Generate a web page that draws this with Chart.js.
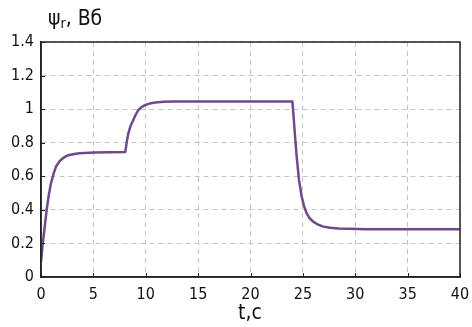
<!DOCTYPE html>
<html>
<head>
<meta charset="utf-8">
<script src="https://cdn.jsdelivr.net/npm/chart.js@4/dist/chart.umd.min.js"></script>
<style>
  html, body { margin: 0; padding: 0; background: #fff; }
  #wrap { position: relative; width: 472px; height: 327px; }
  .lbl { position: absolute; font-family: 'Liberation Sans Narrow', 'DejaVu Sans Condensed', sans-serif; color: #111; }
  #ylab { left: 48px; top: 6px; font-size: 21px; }
  #ylab sub { font-size: 14px; vertical-align: -3px; }
  #xlab { left: 238px; top: 300px; font-size: 21px; }
</style>
</head>
<body>
<div id="wrap">
  <canvas id="c" width="472" height="327"></canvas>
  <div class="lbl" id="ylab">ψ<sub>r</sub>, Вб</div>
  <div class="lbl" id="xlab">t,c</div>
</div>
<script>
// flux linkage vs time
const times = [0, 0.15, 0.32, 0.54, 0.75, 0.95, 1.2, 1.43, 1.75, 2.07, 2.4, 2.7, 3.2, 3.66, 5.1, 8.05,
    8.2, 8.34, 8.55, 8.81, 9.05, 9.29, 9.6, 9.93, 10.4, 10.9, 11.7, 12.6, 24.0,
    24.12, 24.25, 24.41, 24.63, 24.89, 25.1, 25.36, 25.65, 26.0, 26.45, 26.95, 27.6, 28.4, 31, 40];
const psi = [0.09, 0.19, 0.28, 0.40, 0.49, 0.558, 0.615, 0.657, 0.688, 0.707, 0.72, 0.727, 0.733, 0.737, 0.741, 0.745,
    0.81, 0.856, 0.90, 0.935, 0.968, 0.995, 1.012, 1.024, 1.034, 1.04, 1.044, 1.046, 1.046,
    0.95, 0.84, 0.717, 0.578, 0.478, 0.425, 0.379, 0.35, 0.329, 0.312, 0.30, 0.293, 0.289, 0.285, 0.285];
const xTicks = [0, 5, 10, 15, 20, 25, 30, 35, 40];
const yTicks = [0, 0.2, 0.4, 0.6, 0.8, 1, 1.2, 1.4];

const tickFont = { family: "'Liberation Sans Narrow', 'DejaVu Sans Condensed', sans-serif", size: 16 };

// short tick marks pointing into the plot, like the original
const innerTicks = {
    id: 'innerTicks',
    afterDraw(chart) {
        const { ctx, chartArea: a, scales: { x, y } } = chart;
        ctx.save();
        ctx.strokeStyle = '#222';
        ctx.lineWidth = 1;
        ctx.beginPath();
        xTicks.forEach(v => {
            const px = Math.round(x.getPixelForValue(v)) + 0.5;
            ctx.moveTo(px, a.bottom); ctx.lineTo(px, a.bottom - 4);
        });
        yTicks.forEach(v => {
            const py = Math.round(y.getPixelForValue(v)) + 0.5;
            ctx.moveTo(a.left, py); ctx.lineTo(a.left + 4, py);
        });
        ctx.stroke();
        ctx.restore();
    }
};

new Chart(document.getElementById('c'), {
    type: 'line',
    data: {
        datasets: [{
            data: times.map((t, i) => ({ x: t, y: psi[i] })),
            borderColor: '#6e4a8c',
            borderWidth: 2.5,
            borderJoinStyle: 'round',
            pointRadius: 0,
            tension: 0,
            fill: false
        }]
    },
    options: {
        responsive: false,
        animation: false,
        layout: { padding: { left: 0, top: 42, right: 12, bottom: 0 } },
        plugins: { legend: { display: false }, tooltip: { enabled: false } },
        scales: {
            x: {
                type: 'linear', min: 0, max: 40,
                afterBuildTicks: s => { s.ticks = xTicks.map(v => ({ value: v })); },
                afterFit: s => { s.height = 50; s.paddingLeft = 0; s.paddingRight = 0; },
                grid: { color: '#c4c4c4', drawTicks: false },
                border: { display: true, color: '#222', width: 1.5, dash: [5, 4] },
                ticks: { font: tickFont, color: '#111', padding: 8, maxRotation: 0 }
            },
            y: {
                type: 'linear', min: 0, max: 1.4,
                afterBuildTicks: s => { s.ticks = yTicks.map(v => ({ value: v })); },
                afterFit: s => { s.width = 41; s.paddingTop = 0; s.paddingBottom = 0; },
                grid: { color: '#c4c4c4', drawTicks: false },
                border: { display: true, color: '#222', width: 1.5, dash: [5, 4] },
                ticks: { font: tickFont, color: '#111', padding: 7, callback: v => String(Math.round(v * 10) / 10) }
            }
        }
    },
    plugins: [innerTicks, {
        id: 'frame',
        afterDraw(chart) {
            const { ctx, chartArea: a } = chart;
            ctx.save();
            ctx.strokeStyle = '#222';
            ctx.lineWidth = 1.5;
            ctx.strokeRect(a.left, a.top, a.right - a.left, a.bottom - a.top);
            ctx.restore();
        }
    }]
});
</script>
</body>
</html>
